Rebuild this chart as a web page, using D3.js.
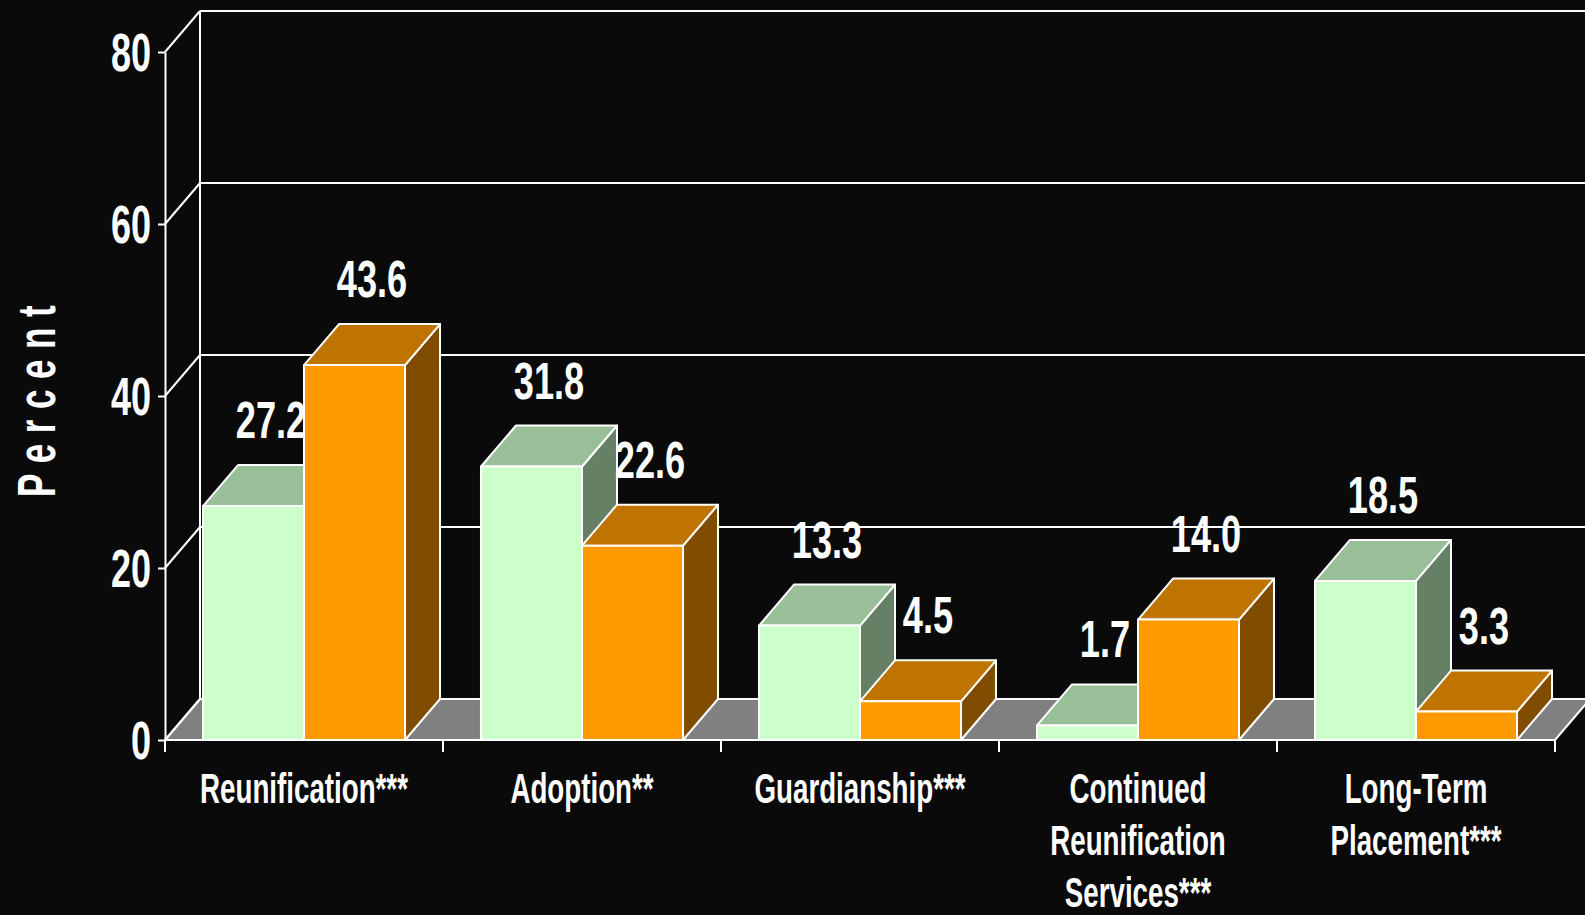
<!DOCTYPE html>
<html>
<head>
<meta charset="utf-8">
<script src="https://cdn.jsdelivr.net/npm/d3@7"></script>
<style>
  html, body { margin: 0; padding: 0; background: #0a0a0a; }
  svg { display: block; }
  text { font-family: "Liberation Sans", Arial, sans-serif; font-weight: bold; fill: #fff; }
</style>
</head>
<body>
<svg id="chart" width="1585" height="915"></svg>
<script>
// data
const categories = ["Reunification***", "Adoption**", "Guardianship***", "Continued Reunification Services***", "Long-Term Placement***"];
const categoryLines = [["Reunification***"], ["Adoption**"], ["Guardianship***"], ["Continued", "Reunification", "Services***"], ["Long-Term", "Placement***"]];
const series = ["group1", "group2"];
const group1Values = [27.2, 31.8, 13.3, 1.7, 18.5];
const group2Values = [43.6, 22.6, 4.5, 14.0, 3.3];
const yTicks = [0, 20, 40, 60, 80];

const svg = d3.select("#chart");
const W = 1585;

// 3d depth offset
const dx = 35, dy = -41;
const sx = 0.66; // narrow font squeeze

const colors = {
	group1: { front: "#ccffcc", top: "#99bf99", side: "#668066" },
	group2: { front: "#ff9900", top: "#bf7300", side: "#804c00" }
};

const x0 = d3.scaleBand().domain(categories).range([165, 1555]);
const x1 = d3.scaleBand().domain(series).range([0, x0.bandwidth()]).paddingOuter(0.376);
const y = d3.scaleLinear().domain([0, 80]).range([740, 52]);

const back = svg.append("g");

// floor
const xL = x0.range()[0], xR = x0.range()[1];
back.append("path")
	.attr("d", `M${xL},${y(0)}L${xR},${y(0)}L${xR + dx},${y(0) + dy}L${xL + dx},${y(0) + dy}Z`)
	.attr("fill", "#808080")
	.attr("stroke", "#fff")
	.attr("stroke-width", 2);

// back wall grid lines + left wall diagonals
yTicks.forEach((t) => {
	back.append("line")
		.attr("x1", xL + dx).attr("x2", W + 10)
		.attr("y1", y(t) + dy).attr("y2", y(t) + dy)
		.attr("stroke", "#fff").attr("stroke-width", 2);
	back.append("line")
		.attr("x1", xL).attr("x2", xL + dx)
		.attr("y1", y(t)).attr("y2", y(t) + dy)
		.attr("stroke", "#fff").attr("stroke-width", 2);
});
back.append("line")
	.attr("x1", xL + dx).attr("x2", xL + dx)
	.attr("y1", y(80) + dy).attr("y2", y(0) + dy)
	.attr("stroke", "#fff").attr("stroke-width", 2);

// y axis
const yAxis = svg.append("g").attr("transform", `translate(${xL},0)`)
	.call(d3.axisLeft(y).tickValues(yTicks).tickSize(7).tickSizeOuter(0).tickFormat(d3.format("d")));
yAxis.select(".domain").attr("stroke", "#fff").attr("stroke-width", 2);
yAxis.selectAll(".tick line").attr("stroke", "#fff").attr("stroke-width", 2);
yAxis.selectAll(".tick text").remove();
yTicks.forEach((t) => {
	svg.append("text")
		.attr("transform", `translate(151,${y(t) + 19}) scale(${sx + 0.02},1)`)
		.attr("text-anchor", "end")
		.attr("font-size", 53)
		.text(t);
});

// bars
const bars = svg.append("g");
categories.forEach((c, i) => {
	series.forEach((s, j) => {
		const v = (j === 0 ? group1Values : group2Values)[i];
		const col = colors[s];
		const xa = x0(c) + x1(s), xb = xa + x1.bandwidth();
		const yt = y(v), yb = y(0);
		const g = bars.append("g").attr("stroke", "#fff").attr("stroke-width", 2).attr("stroke-linejoin", "round");
		g.append("path").attr("fill", col.side)
			.attr("d", `M${xb},${yb}L${xb + dx},${yb + dy}L${xb + dx},${yt + dy}L${xb},${yt}Z`);
		g.append("path").attr("fill", col.top)
			.attr("d", `M${xa},${yt}L${xb},${yt}L${xb + dx},${yt + dy}L${xa + dx},${yt + dy}Z`);
		g.append("rect").attr("fill", col.front)
			.attr("x", xa).attr("y", yt).attr("width", xb - xa).attr("height", yb - yt);
		svg.append("text")
			.attr("transform", `translate(${(xa + xb) / 2 + dx / 2},${yt + dy - 27}) scale(0.71,1)`)
			.attr("text-anchor", "middle")
			.attr("font-size", 51)
			.text(v.toFixed(1));
	});
});

// x axis
const xAxis = svg.append("g");
xAxis.append("line").attr("x1", xL).attr("x2", xR).attr("y1", y(0)).attr("y2", y(0))
	.attr("stroke", "#fff").attr("stroke-width", 2);
categories.concat([null]).forEach((c) => {
	const xx = c ? x0(c) : xR;
	xAxis.append("line").attr("x1", xx).attr("x2", xx).attr("y1", y(0)).attr("y2", y(0) + 12)
		.attr("stroke", "#fff").attr("stroke-width", 2);
});
categories.forEach((c, i) => {
	const cx = x0(c) + x0.bandwidth() / 2;
	categoryLines[i].forEach((ln, k) => {
		svg.append("text")
			.attr("transform", `translate(${cx},${803 + k * 52}) scale(${sx},1)`)
			.attr("text-anchor", "middle")
			.attr("font-size", 42)
			.text(ln);
	});
});

// y title
svg.append("text")
	.attr("transform", `translate(55,396) rotate(-90) scale(${sx},1)`)
	.attr("text-anchor", "middle")
	.attr("font-size", 53)
	.attr("letter-spacing", 16)
	.text("Percent");
</script>
</body>
</html>
